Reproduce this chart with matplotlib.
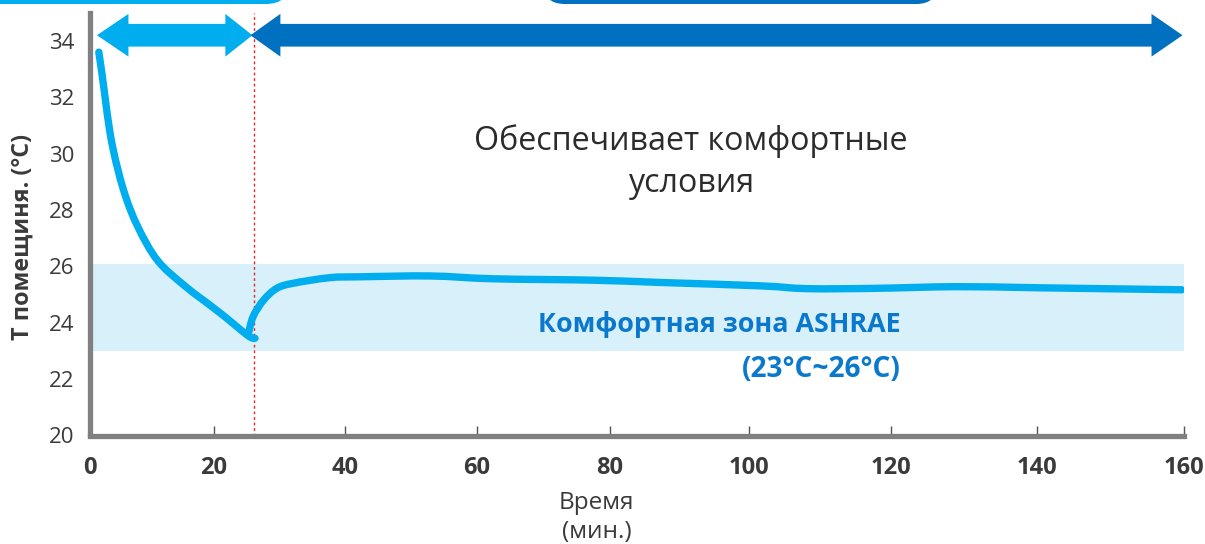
import numpy as np
import matplotlib
matplotlib.use("Agg")
import matplotlib.pyplot as plt
from matplotlib.patches import FancyBboxPatch, PathPatch, Polygon
from matplotlib.path import Path

plt.rcParams['font.family'] = ['Open Sans', 'DejaVu Sans']

# ---------------- data ----------------
x_ticks = [0, 20, 40, 60, 80, 100, 120, 140, 160]
# relative spacing of the (hand drawn, non-uniform) time axis
x_tick_spacing = [0, 124.1, 255.5, 387.5, 520.1, 659.3, 801.3, 947.3, 1094.5]
y_ticks = [20, 22, 24, 26, 28, 30, 32, 34]

# cooling phase (min, °C)
cool_t = [1.5, 2.0, 3.5, 5.5, 7.8, 11.0, 15.4, 20.7, 25.2, 26.3]
cool_T = [33.6, 32.85, 30.5, 28.7, 27.4, 26.2, 25.3, 24.4, 23.55, 23.45]
# comfort phase
hold_t = [25.25, 26.0, 27.6, 29.6, 32.1, 37.7, 42.3, 52.9, 62.4, 77.5, 87.2,
          101.6, 108.2, 117.6, 129.1, 140.4, 159.7]
hold_T = [23.56, 24.21, 24.80, 25.22, 25.40, 25.60, 25.63, 25.66, 25.56, 25.51,
          25.43, 25.31, 25.21, 25.22, 25.28, 25.24, 25.17]

comfort_low, comfort_high = 23.0, 26.1
switch_time = 26.2
phase1 = (1.2, 25.9)
phase2 = (25.6, 159.8)
arrow_level = 34.2

# ---------------- figure ----------------
W, H = 1205, 544
fig = plt.figure(figsize=(W / 100, H / 100), dpi=100)
L, R, B, T = 89.5, 1184, 435.5, 12.7
ax = fig.add_axes([L / W, 1 - B / H, (R - L) / W, (B - T) / H])

ext_t = [-20] + x_ticks + [180]
ext_p = [-124.1] + x_tick_spacing + [1094.5 + 147.2]
fwd = lambda v: np.interp(v, ext_t, ext_p)
inv = lambda p: np.interp(p, ext_p, ext_t)
ax.set_xscale('function', functions=(fwd, inv))
ax.set_xlim(0, 160)
ax.set_ylim(20, 35)

gray = '#808080'
for s in ['top', 'right']:
    ax.spines[s].set_visible(False)
for s in ['left', 'bottom']:
    ax.spines[s].set_color(gray)
    ax.spines[s].set_linewidth(3.8)
    ax.spines[s].set_capstyle('projecting')

ax.set_xticks(x_ticks)
ax.set_xticklabels([str(v) for v in x_ticks], fontsize=17, fontweight='bold', color='#3a3a3a')
ax.set_yticks(y_ticks)
ax.set_yticklabels([str(v) for v in y_ticks], fontsize=16, color='#3a3a3a')
ax.tick_params(axis='x', direction='in', length=7, width=1, color='#555555', pad=14.5)
ax.tick_params(axis='y', length=0, pad=11)

# comfort band
ax.axhspan(comfort_low, comfort_high, color='#d7f0fa', zorder=0, lw=0)
# switch line
ax.axvline(switch_time, color='#e8262a', lw=1, ls=(0, (2, 2)), zorder=1)

lc = '#00aeef'


def smooth_curve(xs, ys):
    """Smooth (Catmull-Rom) curve through the read-off points."""
    p = np.column_stack([xs, ys]).astype(float)
    verts = [p[0]]
    codes = [Path.MOVETO]
    n = len(p)
    for i in range(n - 1):
        p0 = p[i - 1] if i > 0 else p[i]
        p1, p2 = p[i], p[i + 1]
        p3 = p[i + 2] if i + 2 < n else p[i + 1]
        verts += [p1 + (p2 - p0) / 6, p2 - (p3 - p1) / 6, p2]
        codes += [Path.CURVE4] * 3
    return Path(np.array(verts), codes)


for xs, ys in ((cool_t, cool_T), (hold_t, hold_T)):
    ax.add_patch(PathPatch(smooth_curve(xs, ys), fill=False, edgecolor=lc, lw=5.3,
                           capstyle='round', joinstyle='round', zorder=3))


# double arrows (tips located through the data transform, shape in pixels)
def double_arrow(x0, x1, y, color, hl0, hl1, hw=42.7, tw=22.7):
    (p0, py), (p1, _) = ax.transData.transform([(x0, y), (x1, y)])
    verts = [(p0, py), (p0 + hl0, py + hw / 2), (p0 + hl0, py + tw / 2),
             (p1 - hl1, py + tw / 2), (p1 - hl1, py + hw / 2), (p1, py),
             (p1 - hl1, py - hw / 2), (p1 - hl1, py - tw / 2),
             (p0 + hl0, py - tw / 2), (p0 + hl0, py - hw / 2)]
    poly = Polygon(verts, closed=True, transform=None, facecolor=color,
                   edgecolor='none', zorder=5, clip_on=False)
    fig.add_artist(poly)


double_arrow(phase1[0], phase1[1], arrow_level, '#00aeef', 31.5, 27)
double_arrow(phase2[0], phase2[1], arrow_level, '#0070c0', 30, 31)

# texts
ax.text(0.5496, 0.6753, 'Обеспечивает комфортные', transform=ax.transAxes,
        ha='center', va='baseline', fontsize=23.2, color='#2b2b2b')
ax.text(0.5496, 0.5766, 'условия', transform=ax.transAxes,
        ha='center', va='baseline', fontsize=23.2, color='#2b2b2b')

blue_txt = '#0a78cc'
ax.text(0.7414, 0.2441, 'Комфортная зона ASHRAE', transform=ax.transAxes,
        ha='right', va='baseline', fontsize=19.4, fontweight='bold', color=blue_txt)
ax.text(0.7414, 0.139, '(23°C~26°C)', transform=ax.transAxes,
        ha='right', va='baseline', fontsize=20.2, fontweight='bold', color=blue_txt)

ax.text(0.4634, -0.1746, 'Время', transform=ax.transAxes, ha='center', va='baseline',
        fontsize=17.5, color='#3a3a3a')
ax.text(0.4634, -0.2431, '(мин.)', transform=ax.transAxes, ha='center', va='baseline',
        fontsize=17.5, color='#3a3a3a')

ax.text(-0.0611, 0.4707, 'T помещиня. (°C)', transform=ax.transAxes, rotation=90,
        ha='center', va='center', fontsize=16.8, fontweight='bold', color='#3a3a3a')

# header tabs cut off at the top edge
fig.patches.append(FancyBboxPatch((-30 / W, 1 - 4 / H), 320 / W, 40 / H,
                                  boxstyle='round,pad=0,rounding_size=0.02',
                                  transform=fig.transFigure, color='#00aeef', lw=0,
                                  mutation_aspect=W / H))
fig.patches.append(FancyBboxPatch((543 / W, 1 - 4 / H), 395 / W, 40 / H,
                                  boxstyle='round,pad=0,rounding_size=0.018',
                                  transform=fig.transFigure, color='#0070c0', lw=0,
                                  mutation_aspect=W / H))

fig.savefig('out.png', dpi=100)
